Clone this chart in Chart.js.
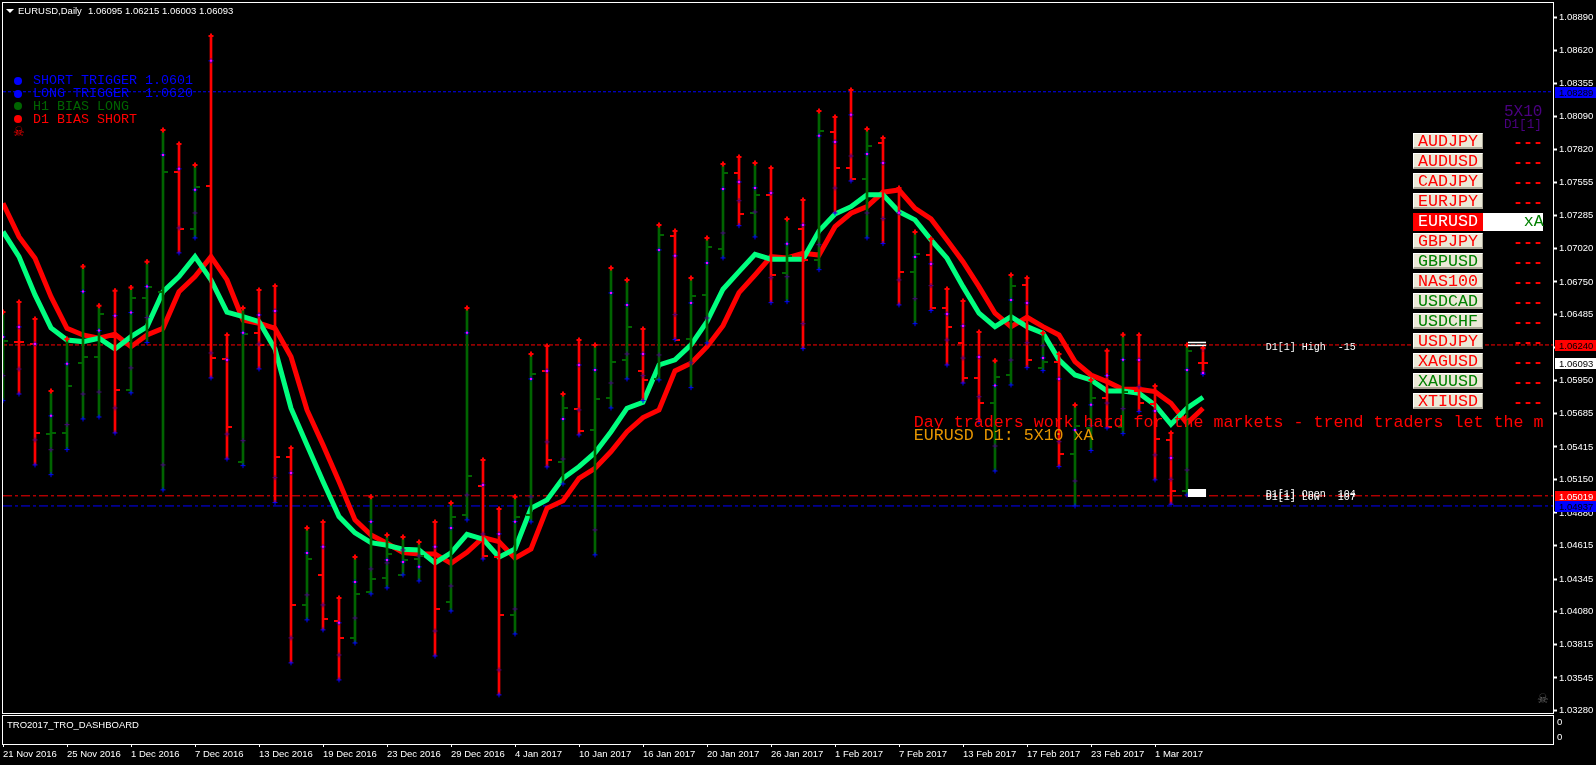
<!DOCTYPE html>
<html>
<head>
<meta charset="utf-8">
<title>EURUSD,Daily</title>
<style>
    html, body { margin:0; padding:0; background:#000; overflow:hidden; }
    canvas { position:absolute; left:0; }
    #chartMain { top:0; }
    #chartSub { top:714px; }
    .frame { position:absolute; left:2px; width:1550px; border:1px solid #fff; }
    .txt { position:absolute; height:20px; line-height:20px; white-space:pre; }
    .dot { position:absolute; width:8px; height:8px; border-radius:50%; }
    .btn { position:absolute; left:1413px; width:70px; height:16px; box-sizing:border-box; background:#ece9d8;
           border-top:1px solid #fff; border-left:1px solid #fff; border-right:1px solid #aca899; border-bottom:2px solid #aca899;
           font:16.67px "Liberation Mono"; line-height:16px; text-align:center; }
</style>
</head>
<body>
<canvas id="chartMain" width="1596" height="716"></canvas>
<canvas id="chartSub" width="1596" height="51"></canvas>
<div class="frame" style="top:2px;height:710px"></div>
<div class="frame" style="top:715px;height:28px"></div>
<div id="overlay"></div>
<script src="https://cdn.jsdelivr.net/npm/chart.js@4/dist/chart.umd.min.js"></script>
<script>
// daily bars
var opens = [1.06119,1.06264,1.06248,1.05520,1.05530,1.06097,1.06145,1.06305,1.05878,1.06623,
    1.06671,1.07642,1.07181,1.07529,1.06127,1.05296,1.06335,1.06394,1.05334,1.04136,
    1.04379,1.04006,1.03869,1.04241,1.04354,1.04379,1.04508,1.04557,1.04163,1.04867,
    1.05101,1.04527,1.04057,1.04867,1.06030,1.05293,1.05722,1.05552,1.05814,1.06121,
    1.06032,1.05965,1.07125,1.06291,1.06647,1.07017,1.07632,1.07308,1.07454,1.06825,
    1.07179,1.06928,1.07966,1.07672,1.07586,1.07877,1.07494,1.06831,1.06971,1.06540,
    1.06256,1.05973,1.05773,1.06000,1.06726,1.06056,1.06102,1.05360,1.05571,1.05814,
    1.05579,1.05868,1.05763,1.05474,1.05061,1.06095];
var highs = [1.06507,1.06588,1.06450,1.05868,1.06289,1.06874,1.06558,1.06679,1.06704,1.06914,
    1.07980,1.07867,1.07697,1.08741,1.06321,1.06540,1.06685,1.06717,1.05406,1.04759,
    1.04808,1.04193,1.04524,1.05012,1.04702,1.04686,1.04646,1.04808,1.04961,1.06540,
    1.05309,1.04913,1.05012,1.06167,1.06232,1.05843,1.06280,1.06240,1.06863,1.06766,
    1.06369,1.07211,1.07163,1.06782,1.07106,1.07705,1.07761,1.07713,1.07672,1.07260,
    1.07413,1.08134,1.08085,1.08304,1.07988,1.07915,1.07511,1.07154,1.07098,1.06693,
    1.06596,1.06345,1.06113,1.06806,1.06782,1.06337,1.06167,1.05754,1.05957,1.06194,
    1.06323,1.06321,1.05908,1.05528,1.06240,1.06215];
var lows = [1.05789,1.05843,1.05269,1.05190,1.05393,1.05641,1.05657,1.05528,1.05852,1.06259,
    1.05067,1.06985,1.07106,1.05973,1.05317,1.05263,1.06046,1.04964,1.03667,1.04015,
    1.03934,1.03529,1.03828,1.04225,1.04274,1.04379,1.04330,1.03723,1.04087,1.04824,
    1.04508,1.03408,1.03901,1.04808,1.05253,1.05115,1.05512,1.04541,1.05730,1.05965,
    1.05789,1.05957,1.06283,1.05894,1.06256,1.06944,1.07205,1.07114,1.06582,1.06590,
    1.06210,1.06849,1.07308,1.07567,1.07106,1.07060,1.06564,1.06412,1.06518,1.06078,
    1.05932,1.05619,1.05220,1.05916,1.06056,1.06032,1.05255,1.04937,1.05385,1.05568,
    1.05522,1.05700,1.05148,1.04951,1.05026,1.06003];
var closes = [1.06275,1.06264,1.05530,1.05528,1.05911,1.06143,1.06493,1.05878,1.06623,1.06712,
    1.07642,1.07181,1.07521,1.06137,1.05579,1.06331,1.06240,1.05334,1.04136,1.04511,
    1.04025,1.03869,1.04225,1.04346,1.04551,1.04500,1.04535,1.04104,1.04851,1.05182,
    1.04532,1.04057,1.04851,1.06008,1.05312,1.05730,1.05546,1.05805,1.06105,1.06388,
    1.05959,1.07130,1.06283,1.06637,1.07033,1.07632,1.07300,1.07454,1.06806,1.06963,
    1.06928,1.07974,1.07672,1.07586,1.07850,1.07486,1.06831,1.06976,1.06540,1.06386,
    1.05973,1.05773,1.05983,1.06717,1.06121,1.06102,1.05360,1.05585,1.05814,1.05579,
    1.05860,1.05773,1.05482,1.05061,1.06191,1.06093];

// small marks the indicator puts near the top and bottom of each bar
var upperMarks = [1.06305,1.06386,1.06248,1.05666,1.06087,1.06672,1.06356,1.06477,1.06502,1.06712,
    1.07778,1.07665,1.07495,1.08539,1.06119,1.06338,1.06483,1.06515,1.05204,1.04557,
    1.04606,1.03991,1.04322,1.04810,1.04500,1.04484,1.04444,1.04606,1.04759,1.06338,
    1.05107,1.04711,1.04810,1.05965,1.06030,1.05641,1.06078,1.06038,1.06661,1.06564,
    1.06167,1.07009,1.06961,1.06580,1.06904,1.07503,1.07559,1.07511,1.07470,1.07058,
    1.07211,1.07932,1.07883,1.08102,1.07786,1.07713,1.07309,1.06952,1.06896,1.06491,
    1.06394,1.06143,1.05911,1.06604,1.06580,1.06135,1.05965,1.05552,1.05755,1.05992,
    1.06121,1.06119,1.05706,1.05326,1.06038,1.06013];
var lowerMarks = [1.05991,1.06045,1.05471,1.05392,1.05595,1.05843,1.05859,1.05730,1.06054,1.06461,
    1.05269,1.07187,1.07308,1.06175,1.05519,1.05465,1.06248,1.05166,1.03869,1.04217,
    1.04136,1.03731,1.04030,1.04427,1.04476,1.04581,1.04532,1.03925,1.04289,1.05026,
    1.04710,1.03610,1.04103,1.05010,1.05455,1.05317,1.05714,1.04743,1.05932,1.06167,
    1.05991,1.06159,1.06485,1.06096,1.06458,1.07146,1.07407,1.07316,1.06784,1.06792,
    1.06412,1.07051,1.07510,1.07769,1.07308,1.07262,1.06766,1.06614,1.06720,1.06280,
    1.06134,1.05821,1.05422,1.06118,1.06258,1.06234,1.05457,1.05139,1.05587,1.05770,
    1.05724,1.05902,1.05350,1.05153,1.05228,1.06205];

// the two thick moving averages
var maGreen = [1.07157,1.06955,1.06645,1.06378,1.06280,1.06267,1.06294,1.06208,1.06307,1.06388,
    1.06671,1.06793,1.06955,1.06766,1.06505,1.06469,1.06429,1.06208,1.05728,1.05431,
    1.05134,1.04851,1.04719,1.04640,1.04619,1.04587,1.04581,1.04476,1.04557,1.04708,
    1.04668,1.04522,1.04589,1.04918,1.04986,1.05161,1.05255,1.05368,1.05538,1.05728,
    1.05776,1.06078,1.06119,1.06240,1.06429,1.06691,1.06833,1.06974,1.06934,1.06934,
    1.06934,1.07163,1.07300,1.07359,1.07456,1.07456,1.07319,1.07252,1.07090,1.06942,
    1.06712,1.06497,1.06388,1.06469,1.06388,1.06335,1.06119,1.05997,1.05957,1.05868,
    1.05868,1.05849,1.05754,1.05598,1.05728,1.05817];
var maRed = [1.07387,1.07116,1.06942,1.06631,1.06375,1.06321,1.06294,1.06327,1.06226,1.06321,
    1.06375,1.06671,1.06793,1.06955,1.06766,1.06442,1.06416,1.06375,1.06145,1.05714,
    1.05431,1.05134,1.04824,1.04702,1.04635,1.04559,1.04549,1.04549,1.04473,1.04562,
    1.04681,1.04648,1.04514,1.04589,1.04918,1.04978,1.05161,1.05242,1.05377,1.05538,
    1.05652,1.05714,1.06030,1.06092,1.06226,1.06396,1.06663,1.06806,1.06955,1.06944,
    1.06982,1.06968,1.07197,1.07306,1.07359,1.07476,1.07494,1.07346,1.07260,1.07090,
    1.06914,1.06712,1.06497,1.06388,1.06464,1.06388,1.06321,1.06105,1.05997,1.05943,
    1.05882,1.05882,1.05862,1.05768,1.05606,1.05728];

// axis labels
var priceTicks = [1.08890,1.08620,1.08355,1.08090,1.07820,1.07555,1.07285,1.07020,1.06750,1.06485,1.06220,
    1.05950,1.05685,1.05415,1.05150,1.04880,1.04615,1.04345,1.04080,1.03815,1.03545,1.03280];
var dateLabels = ['21 Nov 2016','25 Nov 2016','1 Dec 2016','7 Dec 2016','13 Dec 2016','19 Dec 2016','23 Dec 2016',
    '29 Dec 2016','4 Jan 2017','10 Jan 2017','16 Jan 2017','20 Jan 2017','26 Jan 2017','1 Feb 2017','7 Feb 2017',
    '13 Feb 2017','17 Feb 2017','23 Feb 2017','1 Mar 2017'];
var dateTickBars = [0,4,8,12,16,20,24,28,32,36,40,44,48,52,56,60,64,68,72];
var subTicks = [0.76,0.225];

// horizontal levels
var lineTop = 1.08289, lineHigh = 1.06240, lineOpen = 1.05019, lineLow = 1.04937, lastPrice = 1.06093;

var symbols = ['AUDJPY','AUDUSD','CADJPY','EURJPY','EURUSD','GBPJPY','GBPUSD','NAS100','USDCAD','USDCHF','USDJPY','XAGUSD','XAUUSD','XTIUSD'];
var greenSymbols = ['GBPUSD','USDCAD','USDCHF','XAUUSD'];

var UI = '"Liberation Sans"', MONO = '"Liberation Mono"';
var UI_SIZE = 9.5;
var GREEN = '#006400', RED = '#ff0000', BLUE = '#0000ff';
var X_MAX = 96.875;  // plot is 1550px wide, one bar every 16px

// open/close dashes: small canvases used as point styles
function tick(color, left) {
    var c = document.createElement('canvas');
    c.width = 10; c.height = 2;
    var g = c.getContext('2d');
    g.fillStyle = color;
    g.fillRect(left ? 0 : 5, 0, 5, 2);
    return c;
}
var openG = tick(GREEN, true), openR = tick(RED, true), closeG = tick(GREEN, false), closeR = tick(RED, false);
function isUp(i) { return closes[i] > opens[i]; }

function pts(arr) { return arr.map(function (v, i) { return {x: i, y: v}; }); }
function level(v) { return [{x: 0, y: v}, {x: X_MAX, y: v}]; }

function hline(v, color, dash, order) {
    return {type: 'line', data: level(v), borderColor: color, borderWidth: 1, borderDash: dash, pointRadius: 0, order: order};
}
function maLine(arr, color, order) {
    return {type: 'line', data: pts(arr), borderColor: color, borderWidth: 5, pointRadius: 0, tension: 0, clip: 0, order: order};
}
function marks(arr, color, radius, width, order) {
    return {type: 'scatter', data: pts(arr), pointStyle: 'cross', pointRadius: radius, borderColor: color, pointBorderColor: color,
        pointBorderWidth: width, order: order};
}

var datasets = [
    hline(lineTop, BLUE, [3, 2], 20),
    hline(lineHigh, RED, [4, 2], 20),
    hline(lineOpen, RED, [9, 3, 3, 3], 20),
    hline(lineLow, BLUE, [9, 3, 3, 3], 20),
    maLine(maRed, RED, 16),
    maLine(maGreen, '#00ff7f', 15),
    {type: 'bar', data: lows.map(function (l, i) { return {x: i, y: [l, highs[i]]}; }), barThickness: 2,
        backgroundColor: lows.map(function (l, i) { return isUp(i) ? GREEN : RED; }), order: 10},
    {type: 'scatter', data: pts(opens), pointRadius: 3, order: 9,
        pointStyle: function (c) { return isUp(c.dataIndex) ? openG : openR; }},
    {type: 'scatter', data: pts(closes), pointRadius: 3, order: 9,
        pointStyle: function (c) { return isUp(c.dataIndex) ? closeG : closeR; }},
    marks(lowerMarks, '#4b0082', 2.5, 1, 8),
    marks(upperMarks, BLUE, 2.5, 1, 8),
    marks(upperMarks, '#ff00ff', 1, 2, 7),
    marks(lows, BLUE, 2.5, 1, 7),
    marks(highs, RED, 2.5, 2, 7),
    // D1[1] high/low boxes on the last two bars
    {type: 'line', data: [{x: 74.06, y: 1.06260}, {x: 75.19, y: 1.06260}], borderColor: '#fff', borderWidth: 1.5, pointRadius: 0, order: 5},
    {type: 'line', data: [{x: 74.06, y: 1.06236}, {x: 75.19, y: 1.06236}], borderColor: '#fff', borderWidth: 1.5, pointRadius: 0, order: 5},
    {type: 'line', data: [{x: 74.06, y: 1.05042}, {x: 75.19, y: 1.05042}], borderColor: '#fff', borderWidth: 8, pointRadius: 0, order: 5}
];

// price boxes on the right axis, on top of the tick labels
var priceTags = [
    {v: lineTop, bg: BLUE, fg: '#000'},
    {v: lineHigh, bg: RED, fg: '#000'},
    {v: lastPrice, bg: '#fff', fg: '#000'},
    {v: lineOpen, bg: RED, fg: '#fff'},
    {v: lineLow, bg: BLUE, fg: '#000'}
];
var tagPlugin = {
    id: 'tags',
    beforeDatasetsDraw: function (chart) { chart.ctx.imageSmoothingEnabled = false; },
    afterDraw: function (chart) {
        var ctx = chart.ctx, y = chart.scales.y;
        ctx.save();
        ctx.font = UI_SIZE + 'px ' + UI;
        ctx.textBaseline = 'middle';
        priceTags.forEach(function (t) {
            var py = Math.round(y.getPixelForValue(t.v));
            ctx.fillStyle = t.bg;
            ctx.fillRect(1555, py - 5, 41, 11);
            ctx.fillStyle = t.fg;
            ctx.fillText(t.v.toFixed(5), 1559, py + 1);
        });
        ctx.restore();
    }
};

// tick labels must not push the plot area in
function noPadding(ax) {
    ax.paddingTop = 0; ax.paddingBottom = 0; ax.paddingLeft = 0; ax.paddingRight = 0;
}

Chart.defaults.animation = false;
Chart.defaults.font.family = UI;
Chart.defaults.font.size = UI_SIZE;
Chart.defaults.color = '#fff';

new Chart(document.getElementById('chartMain'), {
    type: 'scatter',
    data: {datasets: datasets},
    plugins: [tagPlugin],
    options: {
        responsive: false,
        layout: {autoPadding: false, padding: {left: 3, top: 3, right: 0, bottom: 3}},
        plugins: {legend: {display: false}, tooltip: {enabled: false}},
        scales: {
            x: {type: 'linear', display: false, min: 0, max: X_MAX, offset: false, grid: {offset: false}},
            y: {
                type: 'linear', position: 'right', min: 1.032614, max: 1.090073,
                border: {display: false},
                grid: {drawOnChartArea: false, drawTicks: true, tickLength: 4, tickColor: '#fff', tickWidth: 2},
                afterBuildTicks: function (ax) { ax.ticks = priceTicks.map(function (v) { return {value: v}; }); },
                afterFit: function (ax) { ax.width = 43; noPadding(ax); },
                ticks: {autoSkip: false, padding: 2, color: '#fff', callback: function (v) { return v.toFixed(5); }}
            }
        }
    }
});

new Chart(document.getElementById('chartSub'), {
    type: 'scatter',
    data: {datasets: [{data: []}]},
    options: {
        responsive: false,
        layout: {autoPadding: false, padding: {left: 3, top: 2, right: 0, bottom: 0}},
        plugins: {legend: {display: false}, tooltip: {enabled: false}},
        scales: {
            x: {
                type: 'linear', min: 0, max: X_MAX,
                border: {display: false},
                grid: {drawOnChartArea: false, drawTicks: true, tickLength: 3, tickColor: '#fff'},
                afterBuildTicks: function (ax) { ax.ticks = dateTickBars.map(function (v) { return {value: v}; }); },
                afterFit: function (ax) { ax.height = 21; noPadding(ax); },
                ticks: {autoSkip: false, maxRotation: 0, align: 'start', padding: 2, color: '#fff',
                    callback: function (v) { return dateLabels[dateTickBars.indexOf(v)]; }}
            },
            y: {
                type: 'linear', position: 'right', min: 0, max: 1,
                border: {display: false},
                grid: {drawOnChartArea: false, drawTicks: false},
                afterBuildTicks: function (ax) { ax.ticks = subTicks.map(function (v) { return {value: v}; }); },
                afterFit: function (ax) { ax.width = 43; noPadding(ax); },
                ticks: {autoSkip: false, padding: 4, color: '#fff', callback: function () { return '0'; }}
            }
        }
    }
});

// everything MT4 prints over the chart
var overlay = document.getElementById('overlay');
function label(text, x, y, size, color, font) {
    var d = document.createElement('div');
    d.className = 'txt';
    d.textContent = text;
    d.style.left = x + 'px';
    d.style.top = (y - 10) + 'px';
    d.style.font = size + 'px ' + (font || MONO);
    d.style.lineHeight = '20px';
    d.style.color = color;
    overlay.appendChild(d);
    return d;
}
function dot(y, color) {
    var d = document.createElement('div');
    d.className = 'dot';
    d.style.left = '14px';
    d.style.top = (y - 4) + 'px';
    d.style.background = color;
    overlay.appendChild(d);
}

label('EURUSD,Daily', 18, 10.5, UI_SIZE, '#fff', UI);
label('1.06095 1.06215 1.06003 1.06093', 88, 10.5, UI_SIZE, '#fff', UI);
var tri = document.createElement('div');
tri.style.cssText = 'position:absolute;left:6px;top:9px;width:0;height:0;border-left:4px solid transparent;border-right:4px solid transparent;border-top:4px solid #fff';
overlay.appendChild(tri);

dot(81, BLUE); dot(94, BLUE); dot(106, GREEN); dot(119, RED);
label('SHORT TRIGGER 1.0601', 33, 81, 13.33, BLUE);
label('LONG TRIGGER  1.0620', 33, 94, 13.33, BLUE);
label('H1 BIAS LONG', 33, 107, 13.33, GREEN);
label('D1 BIAS SHORT', 33, 120, 13.33, RED);
label('\u2620', 13, 132, 13, RED, '"DejaVu Sans"');
label('\u2620', 1537, 699, 13, '#666', '"DejaVu Sans"');

label('5X10', 1504, 112, 16, '#4b0082');
label('D1[1]', 1504, 125, 12.6, '#4b0082');

symbols.forEach(function (s, k) {
    var top = 133 + 20 * k;
    var b = document.createElement('div');
    b.className = 'btn';
    b.textContent = s;
    b.style.top = top + 'px';
    b.style.color = greenSymbols.indexOf(s) >= 0 ? '#008000' : RED;
    if (s === 'EURUSD') {
        b.style.background = RED;
        b.style.color = '#fff';
        b.style.border = 'none';
        b.style.height = '18px';
        b.style.lineHeight = '18px';
        var w = document.createElement('div');
        w.style.cssText = 'position:absolute;left:1483px;width:60px;height:18px;background:#fff;top:' + top + 'px';
        overlay.appendChild(w);
        overlay.appendChild(b);
        label('xA', 1523.7, top + 9, 16.67, '#008000');
    } else {
        overlay.appendChild(b);
        label('---', 1513, top + 9.5, 16.67, RED).style.fontWeight = 'bold';
    }
});

label('Day traders work hard for the markets - trend traders let the m', 913.7, 422.7, 16.67, RED);
label('EURUSD D1: 5X10 xA', 913.7, 435.7, 16.67, '#e69500');
label('D1[1] High  -15', 1265.7, 347.5, 10, '#fff');
label('D1[1] Open  104', 1265.7, 494.5, 10, '#fff');
label('D1[1] Low   107', 1265.7, 497.5, 10, '#fff');
label('TRO2017_TRO_DASHBOARD', 7, 724.5, UI_SIZE, '#fff', UI);
</script>
</body>
</html>
